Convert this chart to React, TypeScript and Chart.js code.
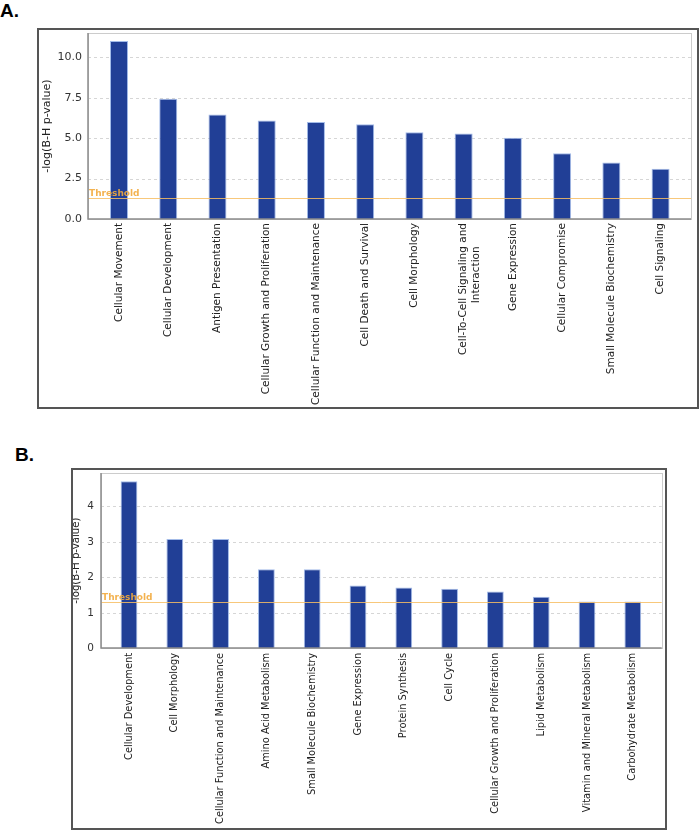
import React, { useEffect, useRef } from 'react';
import { Chart, registerables } from 'chart.js';

Chart.register(...registerables);

// ---------- Panel A data ----------
const categoriesA: (string | string[])[] = [
  'Cellular Movement',
  'Cellular Development',
  'Antigen Presentation',
  'Cellular Growth and Proliferation',
  'Cellular Function and Maintenance',
  'Cell Death and Survival',
  'Cell Morphology',
  ['Cell-To-Cell Signaling and', 'Interaction       '],
  'Gene Expression',
  'Cellular Compromise',
  'Small Molecule Biochemistry',
  'Cell Signaling',
];
const valuesA = [11.0, 7.43, 6.46, 6.09, 6.0, 5.86, 5.37, 5.29, 5.02, 4.07, 3.5, 3.1];
const yTicksA = [0, 2.5, 5, 7.5, 10];
const yMaxA = 11.5;
const thresholdA = 1.3;

// ---------- Panel B data ----------
const categoriesB: string[] = [
  'Cellular Development',
  'Cell Morphology',
  'Cellular Function and Maintenance',
  'Amino Acid Metabolism',
  'Small Molecule Biochemistry',
  'Gene Expression',
  'Protein Synthesis',
  'Cell Cycle',
  'Cellular Growth and Proliferation',
  'Lipid Metabolism',
  'Vitamin and Mineral Metabolism',
  'Carbohydrate Metabolism',
];
const valuesB = [4.71, 3.08, 3.08, 2.23, 2.23, 1.77, 1.71, 1.68, 1.6, 1.45, 1.32, 1.32];
const yTicksB = [0, 1, 2, 3, 4];
const yMaxB = 4.94;
const thresholdB = 1.3;

const yTitle = '-log(B-H p-value)';
const thresholdLabel = 'Threshold';

const FONT = "'DejaVu Sans', Verdana, sans-serif";

type Cfg = {
  labels: (string | string[])[];
  values: number[];
  ticks: number[];
  yMax: number;
  threshold: number;
  decimals: number;
  w: number;
  h: number;
  yAxisW: number;
  padRight: number;
  padTop: number;
  xAxisH: number;
  insetL: number;
  insetR: number;
  yTickPad: number;
  yTickSize: number;
  xLabelSize: number;
  xPad: number;
  titleSize: number;
  titlePad: number;
};

function makeFramePlugin(cfg: Cfg) {
  return {
    id: 'frame',
    beforeDatasetsDraw(chart: any) {
      const { ctx, chartArea } = chart;
      const y = chart.scales.y;
      const L = chartArea.left - cfg.insetL;
      const R = chartArea.right + cfg.insetR;
      ctx.save();
      ctx.strokeStyle = '#d6d6d6';
      ctx.lineWidth = 1;
      ctx.setLineDash([3, 3]);
      y.ticks.forEach((t: any) => {
        if (t.value === 0) return;
        const py = Math.round(y.getPixelForValue(t.value)) + 0.5;
        ctx.beginPath();
        ctx.moveTo(L, py);
        ctx.lineTo(R, py);
        ctx.stroke();
      });
      ctx.setLineDash([]);
      ctx.strokeStyle = '#cccccc';
      ctx.strokeRect(
        Math.round(L) + 0.5,
        Math.round(chartArea.top) + 0.5,
        Math.round(R - L),
        Math.round(chartArea.bottom - chartArea.top)
      );
      ctx.restore();
    },
    afterDatasetsDraw(chart: any) {
      const { ctx, chartArea } = chart;
      const y = chart.scales.y;
      const L = chartArea.left - cfg.insetL;
      const R = chartArea.right + cfg.insetR;
      ctx.save();
      const ty = Math.round(y.getPixelForValue(cfg.threshold)) + 0.5;
      ctx.strokeStyle = 'rgba(247, 190, 100, 0.85)';
      ctx.lineWidth = 1;
      ctx.beginPath();
      ctx.moveTo(L, ty);
      ctx.lineTo(R, ty);
      ctx.stroke();
      ctx.fillStyle = 'rgba(242, 170, 60, 0.9)';
      ctx.font = `bold 9px ${FONT}`;
      ctx.textAlign = 'left';
      ctx.textBaseline = 'alphabetic';
      ctx.fillText(thresholdLabel, L + 1, ty - 2.5);
      ctx.strokeStyle = '#8c8c8c';
      ctx.lineWidth = 1.5;
      const by = Math.round(chartArea.bottom);
      const lx = Math.round(L);
      ctx.beginPath();
      ctx.moveTo(lx, chartArea.top);
      ctx.lineTo(lx, by);
      ctx.lineTo(R, by);
      ctx.stroke();
      ctx.restore();
    },
  };
}

function Panel({ cfg }: { cfg: Cfg }) {
  const ref = useRef<HTMLCanvasElement>(null);
  useEffect(() => {
    const chart = new Chart(ref.current as HTMLCanvasElement, {
      type: 'bar',
      data: {
        labels: cfg.labels as any,
        datasets: [
          {
            data: cfg.values,
            backgroundColor: '#213f96',
            borderColor: '#a3bbe8',
            borderWidth: 1,
            barPercentage: 0.366,
            categoryPercentage: 1,
          },
        ],
      },
      options: {
        responsive: false,
        maintainAspectRatio: false,
        animation: false,
        layout: { padding: { left: 0, right: cfg.padRight, top: cfg.padTop, bottom: 0 } },
        plugins: {
          legend: { display: false },
          tooltip: { enabled: false },
        },
        scales: {
          x: {
            grid: { display: false, drawTicks: false },
            border: { display: false },
            ticks: {
              autoSkip: false,
              minRotation: 90,
              maxRotation: 90,
              padding: cfg.xPad,
              color: '#222222',
              font: { family: FONT, size: cfg.xLabelSize },
            },
            afterFit: (s: any) => {
              s.height = cfg.xAxisH;
              s.paddingLeft = 0;
              s.paddingRight = 0;
            },
          },
          y: {
            min: 0,
            max: cfg.yMax,
            grid: { display: false, drawTicks: false },
            border: { display: false },
            ticks: {
              includeBounds: false,
              padding: cfg.yTickPad,
              color: '#333333',
              font: { family: FONT, size: cfg.yTickSize },
              callback: (v: any) => Number(v).toFixed(cfg.decimals),
            },
            afterBuildTicks: (s: any) => {
              s.ticks = cfg.ticks.map((v) => ({ value: v }));
            },
            afterFit: (s: any) => {
              s.width = cfg.yAxisW;
              s.paddingTop = 0;
              s.paddingBottom = 0;
            },
            title: {
              display: true,
              text: yTitle,
              color: '#222222',
              font: { family: FONT, size: cfg.titleSize, lineHeight: 1.2 },
              padding: { top: cfg.titlePad, bottom: 0 },
            },
          },
        },
      },
      plugins: [makeFramePlugin(cfg)],
    } as any);
    return () => chart.destroy();
  }, [cfg]);
  return (
    <canvas
      ref={ref}
      width={cfg.w}
      height={cfg.h}
      style={{ display: 'block', width: cfg.w, height: cfg.h }}
    />
  );
}

const cfgA: Cfg = {
  labels: categoriesA,
  values: valuesA,
  ticks: yTicksA,
  yMax: yMaxA,
  threshold: thresholdA,
  decimals: 1,
  w: 658,
  h: 377,
  yAxisW: 55.4,
  padRight: 11.8,
  padTop: 3,
  xAxisH: 188,
  insetL: 6.4,
  insetR: 5.8,
  yTickPad: 12.4,
  yTickSize: 11,
  xLabelSize: 10.5,
  xPad: 4,
  titleSize: 11,
  titlePad: 1.4,
};

const cfgB: Cfg = {
  labels: categoriesB,
  values: valuesB,
  ticks: yTicksB,
  yMax: yMaxB,
  threshold: thresholdB,
  decimals: 0,
  w: 592,
  h: 358,
  yAxisW: 33.1,
  padRight: 9.3,
  padTop: 3,
  xAxisH: 179.7,
  insetL: 5.1,
  insetR: 6,
  yTickPad: 12.1,
  yTickSize: 10.5,
  xLabelSize: 9.9,
  xPad: 4.5,
  titleSize: 10.2,
  titlePad: -2.3,
};

export default function App() {
  const labelStyle: React.CSSProperties = {
    position: 'absolute',
    fontFamily: "'Liberation Sans', Arial, sans-serif",
    fontWeight: 'bold',
    fontSize: 19,
    lineHeight: '19px',
    color: '#000',
  };
  return (
    <div
      style={{
        position: 'absolute',
        left: 0,
        top: 0,
        width: 700,
        height: 832,
        background: '#fff',
        overflow: 'hidden',
      }}
    >
      <div style={{ ...labelStyle, left: 0, top: 1 }}>A.</div>
      <div
        style={{
          position: 'absolute',
          left: 37,
          top: 28,
          width: 662,
          height: 381,
          boxSizing: 'border-box',
          border: '2px solid #555',
        }}
      >
        <Panel cfg={cfgA} />
      </div>
      <div style={{ ...labelStyle, left: 15, top: 445 }}>B.</div>
      <div
        style={{
          position: 'absolute',
          left: 71,
          top: 468,
          width: 596,
          height: 362,
          boxSizing: 'border-box',
          border: '2px solid #555',
        }}
      >
        <Panel cfg={cfgB} />
      </div>
    </div>
  );
}
